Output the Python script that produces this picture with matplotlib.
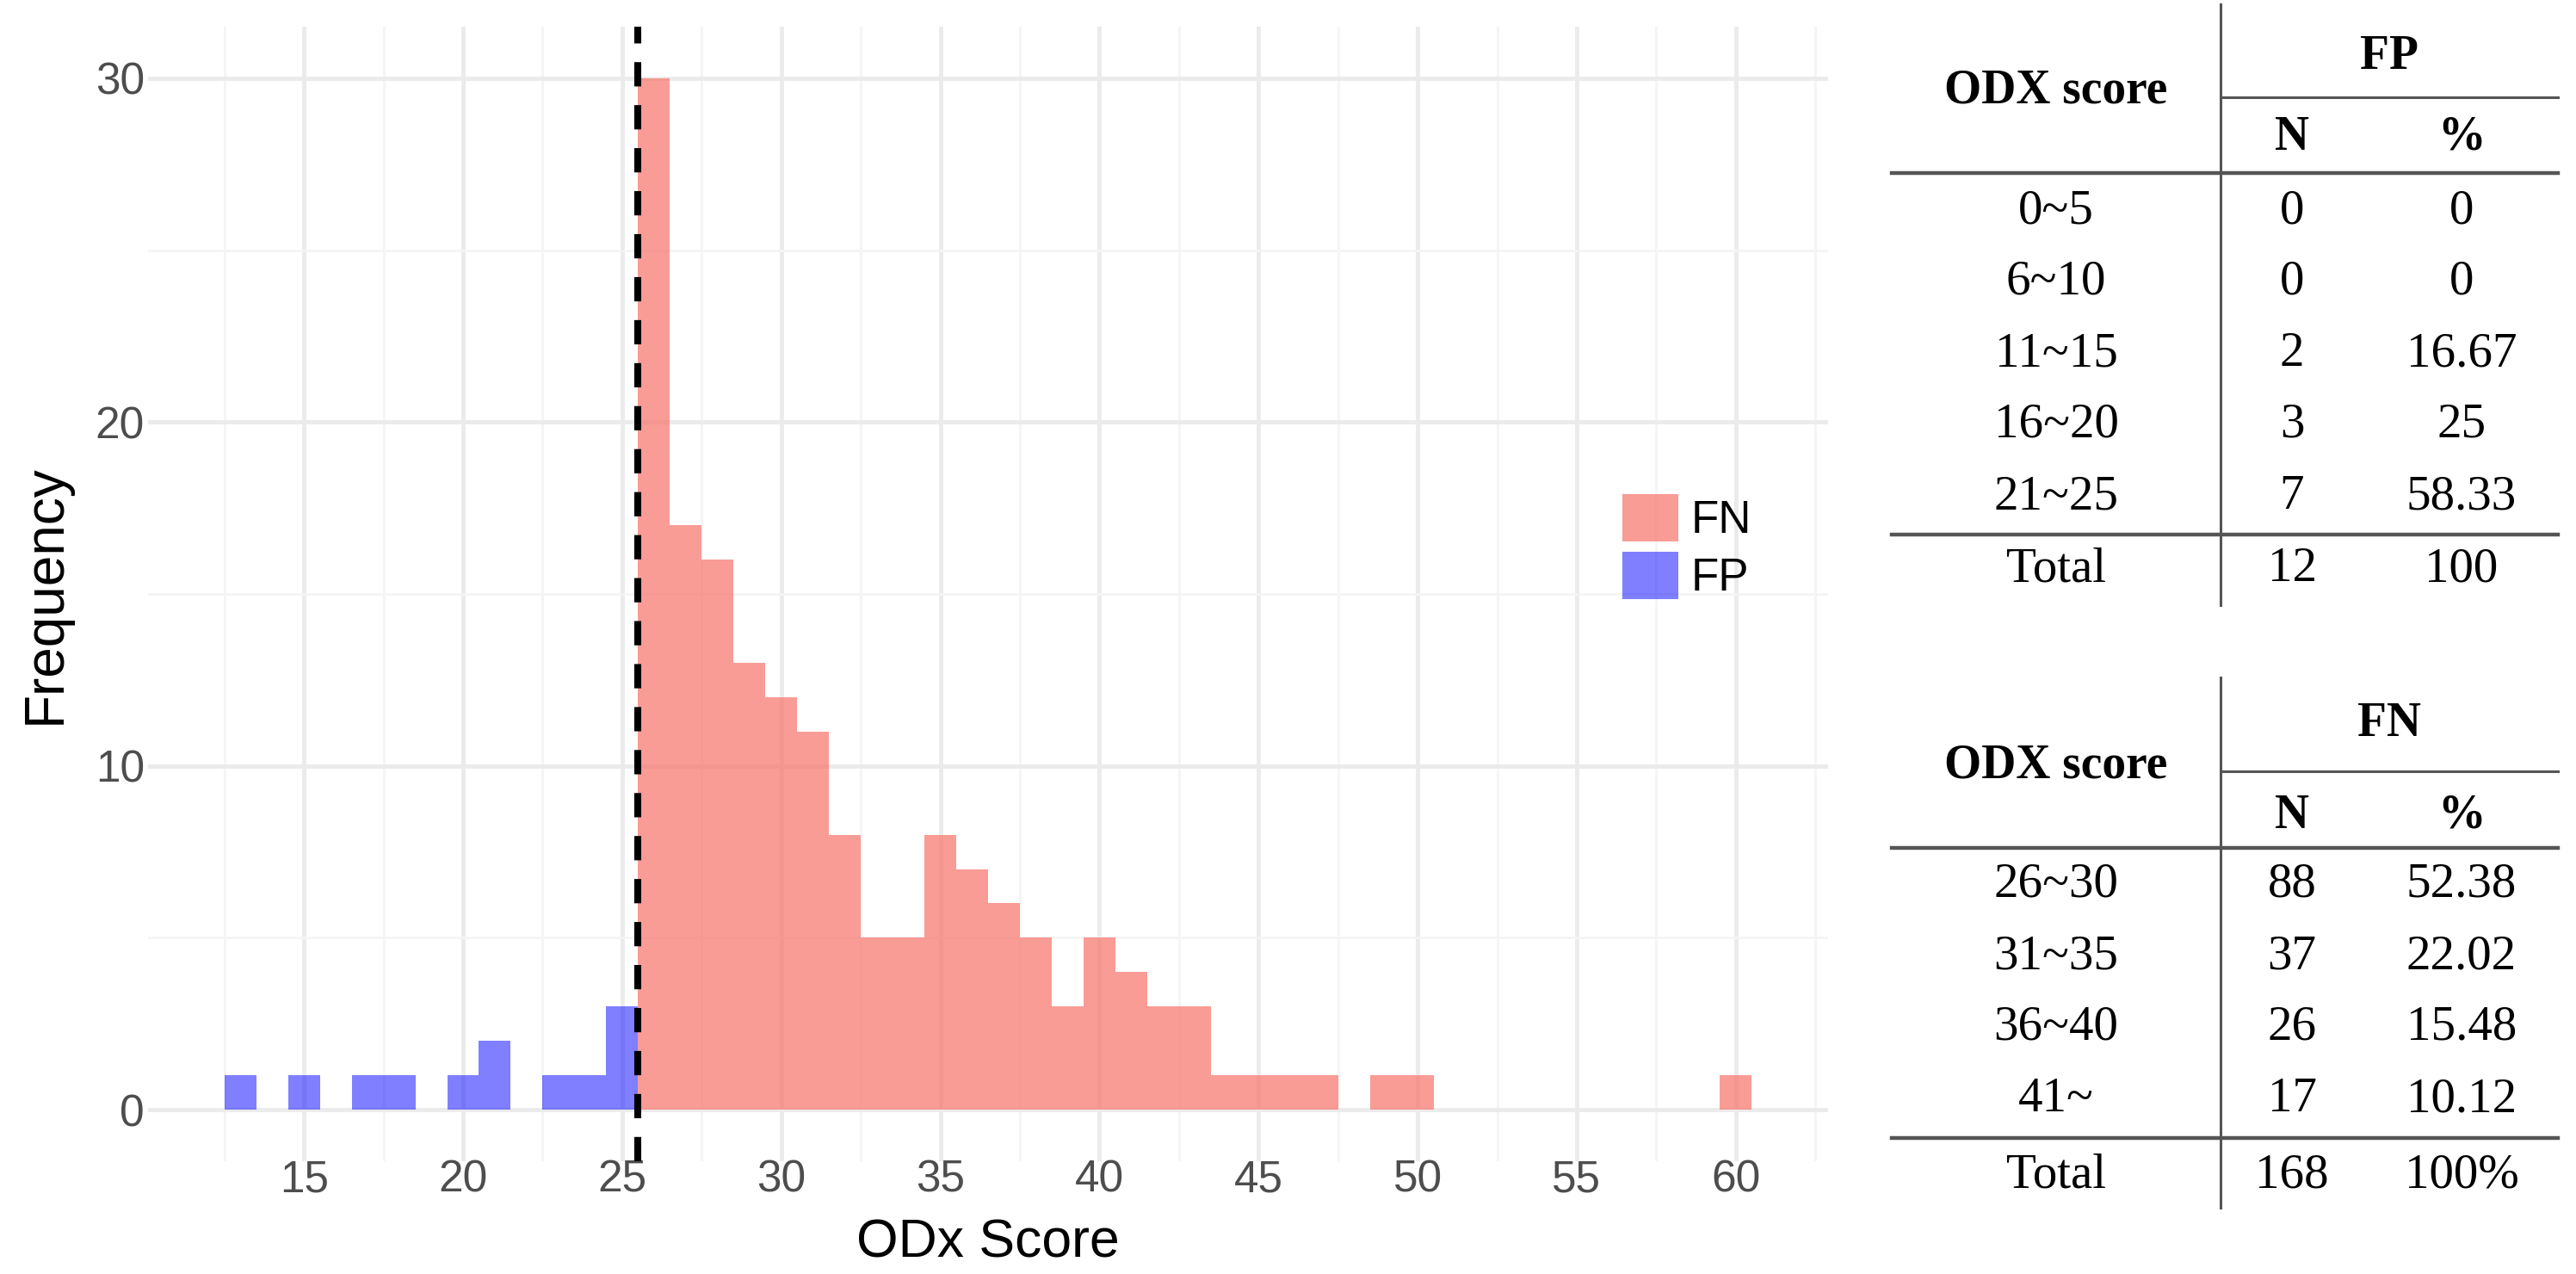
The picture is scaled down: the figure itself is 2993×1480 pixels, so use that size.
import matplotlib
matplotlib.use('Agg')
import matplotlib.pyplot as plt
from matplotlib.patches import Patch
import numpy as np

# histogram data (bin width 1, centred on integer scores)
fp_scores = [13, 15, 17, 18, 20, 21, 23, 24, 25]
fp_counts = [1, 1, 1, 1, 1, 2, 1, 1, 3]

fn_scores = [26, 27, 28, 29, 30, 31, 32, 33, 34, 35, 36, 37, 38, 39, 40,
             41, 42, 43, 44, 45, 46, 47, 49, 50, 60]
fn_counts = [30, 17, 16, 13, 12, 11, 8, 5, 5, 8, 7, 6, 5, 3, 5,
             4, 3, 3, 1, 1, 1, 1, 1, 1, 1]

cutoff = 25.5

# tables
fp_ranges = ['0~5', '6~10', '11~15', '16~20', '21~25']
fp_n = ['0', '0', '2', '3', '7']
fp_pct = ['0', '0', '16.67', '25', '58.33']
fp_total = ['Total', '12', '100']

fn_ranges = ['26~30', '31~35', '36~40', '41~']
fn_n = ['88', '37', '26', '17']
fn_pct = ['52.38', '22.02', '15.48', '10.12']
fn_total = ['Total', '168', '100%']

W, H = 2993, 1480
fig = plt.figure(figsize=(W / 100, H / 100), dpi=100)
fig.patch.set_facecolor('white')

sans = ['Liberation Sans', 'DejaVu Sans']
serif = ['Liberation Serif', 'DejaVu Serif']

# ---- histogram panel ----
l, r, t, b = 172, 2124, 31, 1349
ax = fig.add_axes([l / W, (H - b) / H, (r - l) / W, (b - t) / H])
ax.set_xlim(10.1, 62.9)
ax.set_ylim(-1.5, 31.5)

ax.bar(fn_scores, fn_counts, width=1.0, color='#F8766D', alpha=0.72,
       linewidth=0, label='FN', zorder=2)
ax.bar(fp_scores, fp_counts, width=1.0, color='#0000FF', alpha=0.5,
       linewidth=0, label='FP', zorder=2)
ax.axvline(cutoff, color='black', lw=5.8, ls=(0, (3.5, 2.7)), zorder=3)

ax.set_xticks(np.arange(15, 61, 5))
ax.set_xticks(np.arange(12.5, 63, 5), minor=True)
ax.set_yticks([0, 10, 20, 30])
ax.set_yticks([5, 15, 25], minor=True)
ax.grid(which='major', color='#EBEBEB', lw=3.5, zorder=0)
ax.grid(which='minor', color='#F4F4F4', lw=2, zorder=0)
ax.set_axisbelow(True)
for s in ax.spines.values():
    s.set_visible(False)
ax.tick_params(which='both', length=0)
ax.tick_params(axis='x', pad=-2, labelsize=37, labelcolor='#4D4D4D')
ax.tick_params(axis='y', pad=3, labelsize=37, labelcolor='#4D4D4D')
for lab in ax.get_xticklabels() + ax.get_yticklabels():
    lab.set_family(sans)

ax.set_xlabel('ODx Score', fontsize=45, family=sans, labelpad=14)
ax.set_ylabel('Frequency', fontsize=46, family=sans, labelpad=20)

handles = [Patch(facecolor='#F8766D', alpha=0.72, lw=0, label='FN'),
           Patch(facecolor='#0000FF', alpha=0.5, lw=0, label='FP')]
fig.legend(handles=handles, loc='upper left',
           bbox_to_anchor=(1885 / W, (H - 574) / H), frameon=False,
           prop={'family': sans, 'size': 38}, handlelength=1.23,
           handleheight=1.23, handletextpad=0.28, labelspacing=0.2,
           borderpad=0, borderaxespad=0)

# ---- tables ----
tab = fig.add_axes([0, 0, 1, 1])
tab.set_xlim(0, W)
tab.set_ylim(H, 0)
tab.axis('off')

cx = [2389, 2663, 2860]
vx = 2580
line_col = '#555555'


def draw_table(y0, y1, title, ys, ranges, ns, pcts, total):
    # y0/y1: ends of the vertical rule; ys: y positions of rules and text rows
    tab.plot([vx, vx], [y0, y1], color=line_col, lw=2.2)
    tab.plot([vx, 2972], [ys['thin'], ys['thin']], color=line_col, lw=2.2)
    tab.plot([2198, 2972], [ys['thick1'], ys['thick1']], color=line_col, lw=3.2)
    tab.plot([2198, 2972], [ys['thick2'], ys['thick2']], color=line_col, lw=3.2)
    tab.text((vx + 2972) / 2, ys['title'], title, ha='center', va='center',
             fontsize=40, fontweight='bold', family=serif)
    tab.text(cx[0], ys['head'], 'ODX score', ha='center', va='center',
             fontsize=40, fontweight='bold', family=serif)
    tab.text(cx[1], ys['np'], 'N', ha='center', va='center',
             fontsize=40, fontweight='bold', family=serif)
    tab.text(cx[2], ys['np'], '%', ha='center', va='center',
             fontsize=40, fontweight='bold', family=serif)
    for i, (a, n, p) in enumerate(zip(ranges, ns, pcts)):
        y = ys['row0'] + i * 83
        for x, s in zip(cx, (a, n, p)):
            tab.text(x, y, s, ha='center', va='center', fontsize=41, family=serif)
    for x, s in zip(cx, total):
        tab.text(x, ys['total'], s, ha='center', va='center', fontsize=41, family=serif)


draw_table(5, 703, 'FP',
           dict(thin=113, thick1=201, thick2=621, title=66, head=106, np=160,
                row0=245, total=661),
           fp_ranges, fp_n, fp_pct, fp_total)
draw_table(787, 1403, 'FN',
           dict(thin=896, thick1=985, thick2=1322, title=841, head=889, np=948,
                row0=1028, total=1365),
           fn_ranges, fn_n, fn_pct, fn_total)

fig.savefig('out.png', dpi=100, facecolor='white')
